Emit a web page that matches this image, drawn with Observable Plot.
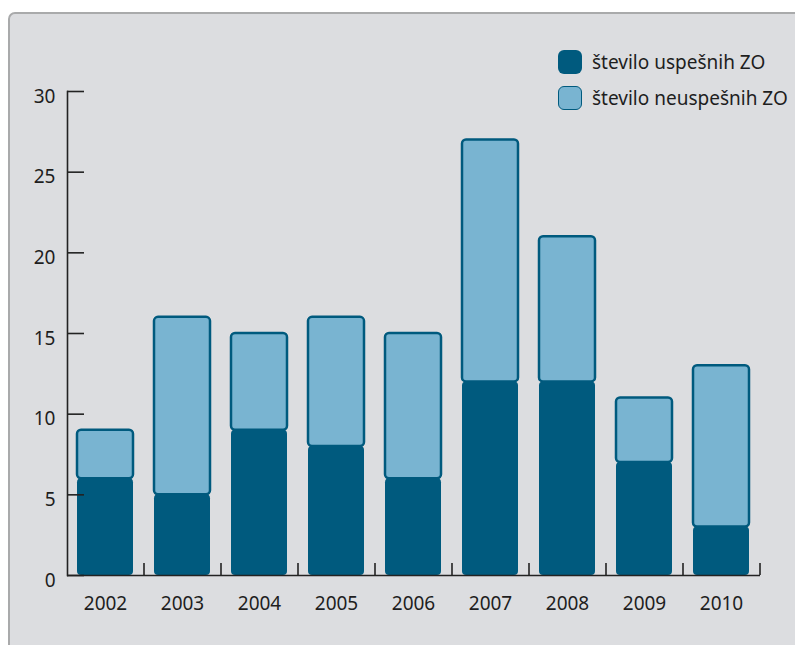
<!DOCTYPE html>
<html>
<head>
<meta charset="utf-8">
<script src="https://cdn.jsdelivr.net/npm/d3@7"></script>
<script src="https://cdn.jsdelivr.net/npm/@observablehq/plot@0.6"></script>
<style>
  html, body { margin: 0; padding: 0; background: #ffffff; }
  body { width: 795px; height: 645px; position: relative; overflow: hidden; font-family: "Noto Sans", sans-serif; }
  #panel { position: absolute; left: 8px; top: 12px; width: 820px; height: 680px; background: #dcdde0; border: 2px solid #a9aaab; border-radius: 7px 0 0 0; box-sizing: border-box; }
  #chart { position: absolute; left: 0; top: 0; }
  #legend { position: absolute; left: 558px; top: 44px; font-size: 19px; color: #1e1e1e; }
  .item { display: flex; align-items: center; height: 36px; }
  .sw { width: 24px; height: 24px; border-radius: 6px; box-sizing: border-box; margin-right: 10px; }
</style>
</head>
<body>
<div id="panel"></div>
<div id="chart"></div>
<div id="legend"></div>
<script>
const years = ["2002","2003","2004","2005","2006","2007","2008","2009","2010"];
const uspesni = [6, 5, 9, 8, 6, 12, 12, 7, 3];
const neuspesni = [3, 11, 6, 8, 9, 15, 9, 4, 10];
const seriesNames = ["število uspešnih ZO", "število neuspešnih ZO"];
const seriesColors = ["#005a7e", "#79b4d1"];
const yTicks = [0, 5, 10, 15, 20, 25, 30];

const dark = years.map((y, i) => ({year: y, series: seriesNames[0], y1: 0, y2: uspesni[i]}));
const light = years.map((y, i) => ({year: y, series: seriesNames[1], y1: uspesni[i], y2: uspesni[i] + neuspesni[i]}));

const W = 795, H = 645, mL = 67, mR = 35, mT = 91, mB = 70;
const step = (W - mL - mR) / years.length;

const plot = Plot.plot({
  width: W, height: H,
  marginLeft: mL, marginRight: mR, marginTop: mT, marginBottom: mB,
  style: {background: "transparent", fontFamily: "Noto Sans, sans-serif", fontSize: "19px", color: "#1e1e1e", overflow: "visible"},
  x: {domain: years, paddingInner: 0.27, paddingOuter: 0.135, label: null},
  y: {domain: [0, 30], label: null},
  color: {domain: seriesNames, range: seriesColors},
  marks: [
    Plot.barY(light, {x: "year", y1: "y1", y2: "y2", fill: "series", stroke: "#005a7e", strokeWidth: 2.5, rx: 4}),
    Plot.barY(dark, {x: "year", y1: "y1", y2: "y2", fill: "series", rx: 4}),
    Plot.frame({anchor: "left", stroke: "#222", strokeWidth: 1.6}),
    Plot.ruleY([0], {stroke: "#222", strokeWidth: 1.6}),
    Plot.axisY({ticks: yTicks, tickSize: 0, tickPadding: 12, dy: 5, label: null, fontSize: 19}),
    Plot.axisY({ticks: yTicks, tickSize: -17, tickFormat: () => "", label: null, stroke: "#222", strokeWidth: 1.6}),
    Plot.axisX({tickSize: 0, tickPadding: 21, label: null, fontSize: 19}),
    Plot.axisX({tickSize: -12, tickFormat: () => "", dx: step / 2, label: null, stroke: "#222", strokeWidth: 1.6})
  ]
});
document.getElementById("chart").appendChild(plot);

const legend = document.getElementById("legend");
seriesNames.forEach((name, i) => {
  const item = document.createElement("div");
  item.className = "item";
  const sw = document.createElement("div");
  sw.className = "sw";
  sw.style.background = seriesColors[i];
  if (i === 1) sw.style.border = "1.5px solid #005a7e";
  const t = document.createElement("span");
  t.textContent = name;
  item.appendChild(sw);
  item.appendChild(t);
  legend.appendChild(item);
});
</script>
</body>
</html>
